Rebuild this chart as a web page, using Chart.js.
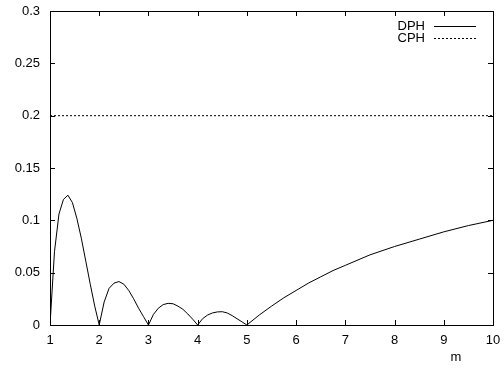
<!DOCTYPE html>
<html>
<head>
<meta charset="utf-8">
<script src="https://cdn.jsdelivr.net/npm/chart.js@4/dist/chart.umd.min.js"></script>
<style>
  html, body { margin: 0; padding: 0; background: #fff; }
  #wrap { width: 504px; height: 369px; }
</style>
</head>
<body>
<div id="wrap"><canvas id="plot"></canvas></div>
<script>
// m values and deviation
const mValues = [
  1, 1.091, 1.182, 1.273, 1.364, 1.455, 1.545, 1.636, 1.727, 1.818, 1.909, 2,
  2.1, 2.2, 2.3, 2.4, 2.5, 2.6, 2.7, 2.8, 2.9, 3,
  3.1, 3.2, 3.3, 3.4, 3.5, 3.6, 3.7, 3.8, 3.9, 4,
  4.1, 4.2, 4.3, 4.4, 4.5, 4.6, 4.7, 4.8, 4.9, 5,
  5.25, 5.5, 5.75, 6, 6.25, 6.5, 6.75, 7, 7.5, 8, 8.5, 9, 9.5, 10
];
const dphValues = [
  0, 0.070, 0.106, 0.120, 0.124, 0.117, 0.102, 0.083, 0.061, 0.039, 0.018, 0,
  0.022, 0.035, 0.040, 0.0415, 0.039, 0.033, 0.025, 0.016, 0.008, 0,
  0.010, 0.016, 0.0195, 0.0207, 0.0203, 0.018, 0.015, 0.0105, 0.0055, 0,
  0.006, 0.0095, 0.0115, 0.0125, 0.0127, 0.0115, 0.009, 0.006, 0.003, 0,
  0.0095, 0.018, 0.026, 0.033, 0.040, 0.046, 0.052, 0.057, 0.067, 0.075, 0.082, 0.089, 0.095, 0.1
];
const cphM = [1, 10];
const cphValues = [0.2, 0.2];

const xTicks = [1, 2, 3, 4, 5, 6, 7, 8, 9, 10];
const yTicks = [0, 0.05, 0.1, 0.15, 0.2, 0.25, 0.3];
const yTickLabels = ['0', '0.05', '0.1', '0.15', '0.2', '0.25', '0.3'];

const FONT = { family: '"Liberation Sans", Arial, sans-serif', size: 13 };

const toPoints = (xs, ys) => xs.map((x, i) => ({ x: x, y: ys[i] }));

// gnuplot-like frame, inward ticks on all sides, key and axis label
const framePlugin = {
  id: 'frame',
  afterDraw(chart) {
    const ctx = chart.ctx;
    const a = chart.chartArea;
    const xs = chart.scales.x, ys = chart.scales.y;
    const len = 5;
    ctx.save();
    ctx.strokeStyle = '#000';
    ctx.lineWidth = 1;
    ctx.strokeRect(a.left + 0.5, a.top + 0.5, a.right - a.left, a.bottom - a.top);
    ctx.beginPath();
    xTicks.forEach(v => {
      const px = Math.round(xs.getPixelForValue(v)) + 0.5;
      ctx.moveTo(px, a.bottom); ctx.lineTo(px, a.bottom - len);
      ctx.moveTo(px, a.top); ctx.lineTo(px, a.top + len);
    });
    yTicks.forEach(v => {
      const py = Math.round(ys.getPixelForValue(v)) + 0.5;
      ctx.moveTo(a.left, py); ctx.lineTo(a.left + len, py);
      ctx.moveTo(a.right, py); ctx.lineTo(a.right - len, py);
    });
    ctx.stroke();

    ctx.fillStyle = '#000';
    ctx.font = FONT.size + 'px ' + FONT.family;
    ctx.textBaseline = 'middle';
    ctx.textAlign = 'right';
    const keyX = a.right - 68, keyY = a.top + 15;
    chart.data.datasets.forEach((ds, i) => {
      const y = keyY + i * 12;
      ctx.fillText(ds.label, keyX, y);
      ctx.beginPath();
      ctx.setLineDash(ds.borderDash || []);
      ctx.moveTo(keyX + 9, Math.round(y) + 0.5);
      ctx.lineTo(keyX + 51, Math.round(y) + 0.5);
      ctx.stroke();
    });
    ctx.setLineDash([]);
    ctx.textAlign = 'center';
    ctx.fillText('m', a.right - 37, a.bottom + 32);
    ctx.restore();
  }
};

new Chart(document.getElementById('plot'), {
  type: 'line',
  data: {
    datasets: [
      {
        label: 'DPH',
        data: toPoints(mValues, dphValues),
        borderColor: '#000',
        borderWidth: 1,
        pointRadius: 0,
        tension: 0,
        fill: false
      },
      {
        label: 'CPH',
        data: toPoints(cphM, cphValues),
        borderColor: '#000',
        borderWidth: 1,
        borderDash: [2, 2],
        pointRadius: 0,
        tension: 0,
        fill: false
      }
    ]
  },
  options: {
    responsive: true,
    maintainAspectRatio: false,
    animation: false,
    layout: { padding: { top: 11, right: 11, left: 0, bottom: 0 } },
    plugins: { legend: { display: false }, tooltip: { enabled: false } },
    scales: {
      x: {
        type: 'linear',
        min: 1,
        max: 10,
        grid: { display: false, drawTicks: false },
        border: { display: false },
        afterBuildTicks(scale) { scale.ticks = xTicks.map(v => ({ value: v })); },
        afterFit(scale) {
          scale.height = 44;
          scale.paddingLeft = 0;
          scale.paddingRight = 0;
        },
        ticks: {
          color: '#000',
          font: FONT,
          padding: 8,
          maxRotation: 0,
          callback: v => String(v)
        }
      },
      y: {
        type: 'linear',
        min: 0,
        max: 0.3,
        grid: { display: false, drawTicks: false },
        border: { display: false },
        afterBuildTicks(scale) { scale.ticks = yTicks.map(v => ({ value: v })); },
        afterFit(scale) {
          scale.width = 50;
          scale.paddingTop = 0;
          scale.paddingBottom = 0;
        },
        ticks: {
          color: '#000',
          font: FONT,
          padding: 10,
          callback: v => yTickLabels[yTicks.indexOf(v)] ?? ''
        }
      }
    }
  },
  plugins: [framePlugin]
});
</script>
</body>
</html>
